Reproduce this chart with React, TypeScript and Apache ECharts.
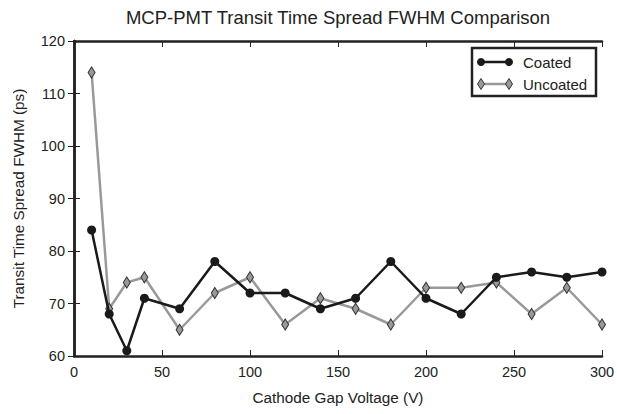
import React, { useEffect, useRef } from "react";
import * as echarts from "echarts";

const voltages = [10, 20, 30, 40, 60, 80, 100, 120, 140, 160, 180, 200, 220, 240, 260, 280, 300];
const coated = [84, 68, 61, 71, 69, 78, 72, 72, 69, 71, 78, 71, 68, 75, 76, 75, 76];
const uncoated = [114, 69, 74, 75, 65, 72, 75, 66, 71, 69, 66, 73, 73, 74, 68, 73, 66];
const seriesNames = ["Coated", "Uncoated"];

const FONT = "Liberation Sans, Arial, sans-serif";
const DARK = "#1a1a1a";
const GREY = "#999999";

export default function App() {
  const ref = useRef<HTMLDivElement>(null);
  useEffect(() => {
    if (!ref.current) return;
    const chart = echarts.init(ref.current, undefined, { renderer: "svg" });
    const axisLine = { show: true, lineStyle: { color: "#222", width: 2.5 } };
    const axisTick = { show: true, inside: true, length: 6, lineStyle: { color: "#222", width: 1 } };
    const label = { color: "#222", fontSize: 14.5, fontFamily: FONT };

    const lx = 472, ly = 48, lw = 124, lh = 48;
    const rows = [62, 84];
    const ix1 = 481, ix2 = 509, tx = 523;
    const legendGraphic: any[] = [
      {
        type: "rect",
        shape: { x: lx, y: ly, width: lw, height: lh },
        style: { fill: "#fff", stroke: "#222", lineWidth: 2.5 },
        z: 100,
      },
      // Coated
      { type: "line", shape: { x1: ix1, y1: rows[0], x2: ix2, y2: rows[0] }, style: { stroke: DARK, lineWidth: 2.5 }, z: 101 },
      { type: "circle", shape: { cx: ix1, cy: rows[0], r: 4 }, style: { fill: DARK }, z: 102 },
      { type: "circle", shape: { cx: ix2, cy: rows[0], r: 4 }, style: { fill: DARK }, z: 102 },
      { type: "text", x: tx, y: rows[0], style: { text: seriesNames[0], fill: "#222", font: `15px ${FONT}`, verticalAlign: "middle" }, z: 102 },
      // Uncoated
      { type: "line", shape: { x1: ix1, y1: rows[1], x2: ix2, y2: rows[1] }, style: { stroke: GREY, lineWidth: 2.5 }, z: 101 },
      { type: "polygon", shape: { points: [[ix1, rows[1] - 5.5], [ix1 + 3.5, rows[1]], [ix1, rows[1] + 5.5], [ix1 - 3.5, rows[1]]] }, style: { fill: GREY, stroke: "#333", lineWidth: 1 }, z: 102 },
      { type: "polygon", shape: { points: [[ix2, rows[1] - 5.5], [ix2 + 3.5, rows[1]], [ix2, rows[1] + 5.5], [ix2 - 3.5, rows[1]]] }, style: { fill: GREY, stroke: "#333", lineWidth: 1 }, z: 102 },
      { type: "text", x: tx, y: rows[1], style: { text: seriesNames[1], fill: "#222", font: `15px ${FONT}`, verticalAlign: "middle" }, z: 102 },
    ];

    chart.setOption({
      animation: false,
      backgroundColor: "#fff",
      title: {
        text: "MCP-PMT Transit Time Spread FWHM Comparison",
        left: 338,
        top: 8,
        padding: 0,
        textAlign: "center",
        textStyle: { color: "#222", fontSize: 18.5, fontWeight: "normal", fontFamily: FONT },
      },
      grid: { left: 74, right: 15, top: 41, bottom: 58, containLabel: false, outerBoundsMode: "none" },
      graphic: legendGraphic,
      xAxis: [
        {
          type: "value",
          min: 0,
          max: 300,
          interval: 50,
          name: "Cathode Gap Voltage (V)",
          nameLocation: "middle",
          nameGap: 34,
          nameTextStyle: { color: "#222", fontSize: 15.3, fontFamily: FONT },
          axisLine,
          axisTick,
          axisLabel: { ...label, margin: 8 },
          splitLine: { show: false },
        },
        {
          type: "value",
          position: "top",
          min: 0,
          max: 300,
          interval: 50,
          axisLine,
          axisTick,
          axisLabel: { show: false },
          splitLine: { show: false },
        },
      ],
      yAxis: [
        {
          type: "value",
          min: 60,
          max: 120,
          interval: 10,
          name: "Transit Time Spread FWHM (ps)",
          nameLocation: "middle",
          nameGap: 48,
          nameTextStyle: { color: "#222", fontSize: 15.3, fontFamily: FONT },
          axisLine,
          axisTick,
          axisLabel: { ...label, margin: 9 },
          splitLine: { show: false },
        },
        {
          type: "value",
          position: "right",
          min: 60,
          max: 120,
          interval: 10,
          axisLine,
          axisTick,
          axisLabel: { show: false },
          splitLine: { show: false },
        },
      ],
      series: [
        {
          name: seriesNames[0],
          type: "line",
          data: voltages.map((v, i) => [v, coated[i]]),
          symbol: "circle",
          symbolSize: 9,
          lineStyle: { color: DARK, width: 2.5 },
          itemStyle: { color: DARK, borderColor: DARK, borderWidth: 0 },
          z: 3,
        },
        {
          name: seriesNames[1],
          type: "line",
          data: voltages.map((v, i) => [v, uncoated[i]]),
          symbol: "diamond",
          symbolSize: [7, 11],
          lineStyle: { color: GREY, width: 2.5 },
          itemStyle: { color: GREY, borderColor: "#333", borderWidth: 1 },
          z: 2,
        },
      ],
    });
    return () => chart.dispose();
  }, []);
  return (
    <div
      ref={ref}
      style={{ position: "absolute", left: 0, top: 0, width: 617, height: 414 }}
    />
  );
}
